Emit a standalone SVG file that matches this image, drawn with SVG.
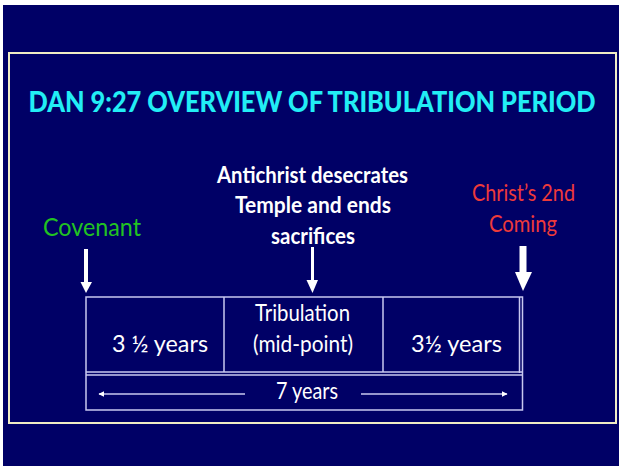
<svg xmlns="http://www.w3.org/2000/svg" width="619" height="466" viewBox="0 0 619 466">
<style>
text{font-family:Lato,"Open Sans","Liberation Sans",sans-serif;text-anchor:middle}
.t{fill:#ffffff;font-size:23px}
.b{font-weight:bold;fill:#ffffff;font-size:22px}
.ln{stroke:#c8c8f0;stroke-width:1.5;fill:none}
.ar{fill:#ffffff}
</style>
<defs>
<marker id="sm" viewBox="0 0 10 10" refX="9" refY="5" markerWidth="6" markerHeight="6" orient="auto-start-reverse" markerUnits="userSpaceOnUse"><path d="M0,0 L10,5 L0,10 z" fill="#ffffff"/></marker>
</defs>
<rect x="0" y="0" width="619" height="466" fill="#ffffff"/>
<rect x="3" y="5" width="616" height="461" fill="#000066"/>
<rect x="9" y="53" width="607" height="370" fill="none" stroke="#f0ecc4" stroke-width="2"/>
<g id="title"><text x="312" y="112" font-weight="900" font-size="28" fill="#22eef5" textLength="567" lengthAdjust="spacingAndGlyphs">DAN 9:27 OVERVIEW OF TRIBULATION PERIOD</text></g>
<g id="covenant"><text x="92" y="236" font-size="25" fill="#22c322" textLength="98" lengthAdjust="spacingAndGlyphs">Covenant</text></g>
<g id="antichrist">
<text class="b" x="312.5" y="183" textLength="191" lengthAdjust="spacingAndGlyphs">Antichrist desecrates</text>
<text class="b" x="313" y="213" textLength="156" lengthAdjust="spacingAndGlyphs">Temple and ends</text>
<text class="b" x="313" y="244" textLength="84" lengthAdjust="spacingAndGlyphs">sacrifices</text>
</g>
<g id="coming">
<text x="523.5" y="201" font-size="24" fill="#ee3a3a" textLength="103" lengthAdjust="spacingAndGlyphs">Christ’s 2nd</text>
<text x="523" y="232" font-size="24" fill="#ee3a3a" textLength="68" lengthAdjust="spacingAndGlyphs">Coming</text>
</g>
<g id="connectors">
<rect class="ar" x="84" y="249" width="4" height="34"/>
<path class="ar" d="M80.5,282 L92,282 L86,293 z"/>
<rect class="ar" x="311" y="247" width="3" height="34"/>
<path class="ar" d="M306.5,280 L318,280 L312.5,293 z"/>
<rect class="ar" x="519.5" y="246" width="7" height="27"/>
<path class="ar" d="M515,272 L532,272 L523,291 z"/>
<line class="ln" x1="245" y1="394" x2="99" y2="394" marker-end="url(#sm)"/>
<line class="ln" x1="361" y1="394" x2="507" y2="394" marker-end="url(#sm)"/>
</g>
<g id="timeline">
<rect class="ln" x="86" y="297" width="436.5" height="113"/>
<line class="ln" x1="519.5" y1="297" x2="519.5" y2="373"/>
<line class="ln" x1="86" y1="372" x2="522.5" y2="372"/>
<line class="ln" x1="86" y1="375" x2="522.5" y2="375"/>
<line class="ln" x1="224" y1="297" x2="224" y2="372"/>
<line class="ln" x1="383" y1="297" x2="383" y2="372"/>
</g>
<g id="first-half"><text class="t" x="160" y="352" font-size="26" textLength="96" lengthAdjust="spacingAndGlyphs">3 ½ years</text></g>
<g id="midpoint">
<text class="t" x="302.5" y="321" textLength="95" lengthAdjust="spacingAndGlyphs">Tribulation</text>
<text class="t" x="303" y="352" textLength="100" lengthAdjust="spacingAndGlyphs">(mid-point)</text>
</g>
<g id="second-half"><text class="t" x="456.5" y="352" font-size="26" textLength="91" lengthAdjust="spacingAndGlyphs">3½ years</text></g>
<g id="total"><text class="t" x="307" y="399" font-size="24" textLength="62" lengthAdjust="spacingAndGlyphs">7 years</text></g>
</svg>
